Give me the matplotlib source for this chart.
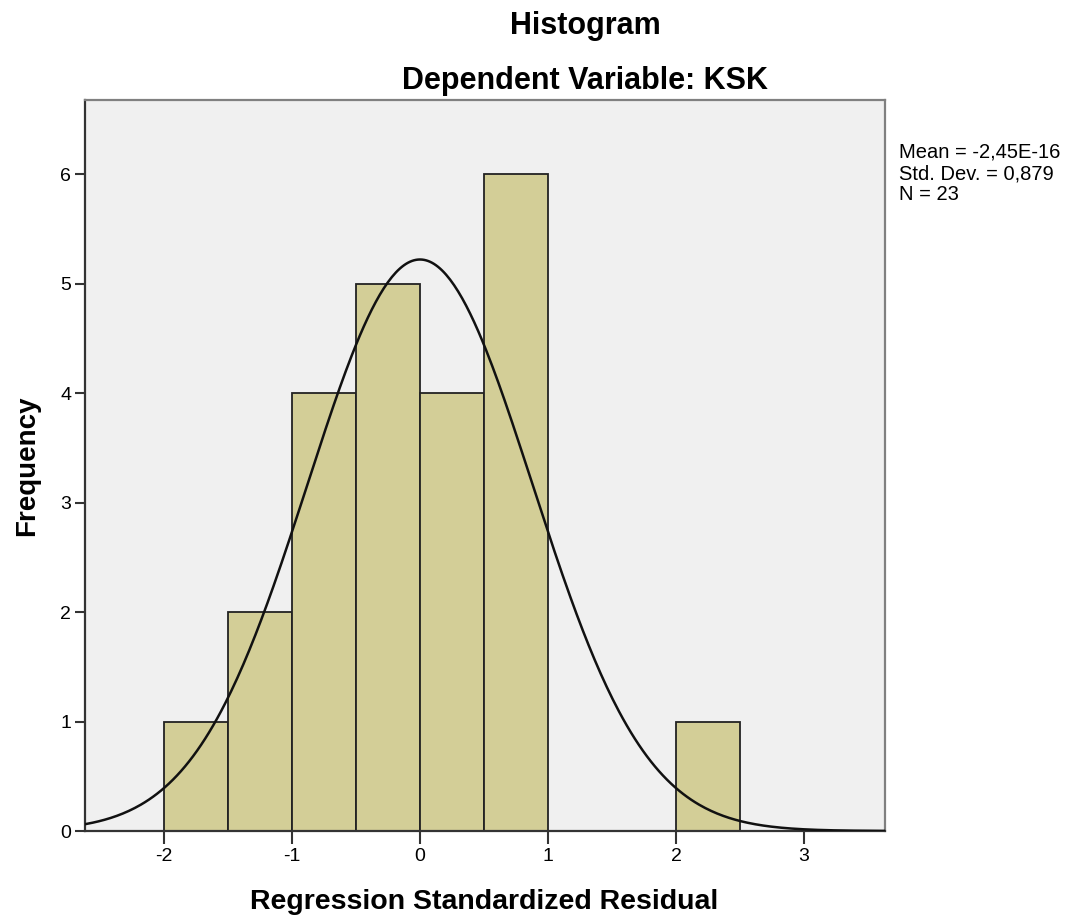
import numpy as np
import matplotlib
matplotlib.use("Agg")
import matplotlib.pyplot as plt

# histogram of regression standardized residuals (bin left edge, count)
bin_left = [-2.0, -1.5, -1.0, -0.5, 0.0, 0.5, 2.0]
counts = [1, 2, 4, 5, 4, 6, 1]
bin_width = 0.5

# reported statistics
mean_val = -2.45e-16
std_dev = 0.879
n_obs = 23
stats_lines = ["Mean = -2,45E-16", "Std. Dev. = 0,879", "N = 23"]

x_ticks = [-2, -1, 0, 1, 2, 3]
y_ticks = [0, 1, 2, 3, 4, 5, 6]

plt.rcParams["font.family"] = ["Liberation Sans", "DejaVu Sans"]

W, H = 1065, 917
fig = plt.figure(figsize=(W / 100, H / 100), dpi=100)
ax = fig.add_axes([85 / W, 1 - 831 / H, 800 / W, 731 / H])
ax.set_facecolor("#f0f0f0")

ax.bar(bin_left, counts, width=bin_width, align="edge", color="#d3ce97",
       edgecolor="#222222", linewidth=1.3, zorder=2)

# normal curve from the reported mean / sd / N
xs = np.linspace(-2.62, 3.64, 400)
ys = n_obs * bin_width * np.exp(-0.5 * ((xs - mean_val) / std_dev) ** 2) / (std_dev * np.sqrt(2 * np.pi))
ax.plot(xs, ys, color="#111111", lw=1.8, zorder=3)

ax.set_xlim(-2.617, 3.633)
ax.set_ylim(0, 6.676)
ax.set_xticks(x_ticks)
ax.set_xticklabels([str(t) for t in x_ticks])
ax.set_yticks(y_ticks)
ax.tick_params(axis="x", labelsize=14, length=9, width=1.5, color="#333333", pad=3)
ax.tick_params(axis="y", labelsize=14, length=7, width=1.5, color="#333333", pad=3)

for s in ("left", "bottom"):
    ax.spines[s].set_color("#333333")
    ax.spines[s].set_linewidth(1.6)
for s in ("top", "right"):
    ax.spines[s].set_color("#808080")
    ax.spines[s].set_linewidth(1.6)

fig.text(585 / W, 1 - 26 / H, "Histogram", ha="center", va="center",
         fontsize=22, fontweight="bold")
fig.text(585 / W, 1 - 81 / H, "Dependent Variable: KSK", ha="center", va="center",
         fontsize=22, fontweight="bold")
fig.text(27 / W, 1 - 466 / H, "Frequency", ha="center", va="center", rotation=90,
         fontsize=20, fontweight="bold")
fig.text(484 / W, 1 - 902 / H, "Regression Standardized Residual", ha="center", va="center",
         fontsize=20.5, fontweight="bold")
fig.text(899 / W, 1 - 143 / H, "\n".join(stats_lines), ha="left", va="top",
         fontsize=14.5, linespacing=1.15)

fig.savefig("out.png", dpi=100)
